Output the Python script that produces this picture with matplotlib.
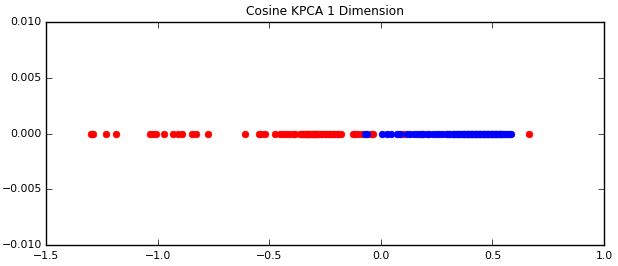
import matplotlib
matplotlib.use("Agg")
import matplotlib.pyplot as plt
import numpy as np

# --------------------------------------------------
# 1. Data: 1-D cosine KPCA projection, two classes
# --------------------------------------------------
red_x = [
    -1.300, -1.295, -1.290, -1.230, -1.185,
    -1.035, -1.020, -1.005, -0.970, -0.930, -0.910, -0.890,
    -0.845, -0.830, -0.776,
    -0.608, -0.546, -0.535, -0.520, -0.474,
    -0.452, -0.440, -0.425, -0.410, -0.395, -0.384,
    -0.362, -0.355, -0.348, -0.340, -0.335, -0.330, -0.325, -0.320,
    -0.315, -0.310, -0.305, -0.300, -0.295, -0.290, -0.285, -0.280,
    -0.270, -0.262, -0.250, -0.240, -0.232, -0.222, -0.215, -0.208,
    -0.198, -0.190, -0.180,
    -0.125, -0.115, -0.104, -0.085, -0.045, -0.035,
    0.100, 0.185, 0.665,
]

blue_x = [
    -0.072, -0.064, 0.004, 0.026, 0.045, 0.071, 0.085, 0.118,
    0.132, 0.148, 0.160, 0.175, 0.190, 0.205, 0.215, 0.232,
    0.245, 0.262, 0.275, 0.290, 0.302, 0.312, 0.322, 0.330,
    0.338, 0.345, 0.352, 0.360, 0.366, 0.372,
    0.378, 0.384, 0.390, 0.396, 0.402, 0.408, 0.414, 0.420,
    0.426, 0.432, 0.438, 0.444, 0.450, 0.456, 0.462, 0.468,
    0.474, 0.480, 0.486, 0.492, 0.498, 0.504, 0.510, 0.516,
    0.522, 0.528, 0.534, 0.540, 0.548, 0.556, 0.565, 0.575,
    0.585,
]

x_ticks = [-1.5, -1.0, -0.5, 0.0, 0.5, 1.0]
y_ticks = [-0.010, -0.005, 0.000, 0.005, 0.010]

# --------------------------------------------------
# 2. Plot
# --------------------------------------------------
plt.style.use("classic")
plt.rcParams["font.size"] = 7.8

fig = plt.figure(figsize=(6.18, 2.66), dpi=100, facecolor="white")
ax = fig.add_axes([0.0744, 0.079, 0.9030, 0.838])

ax.plot(red_x, np.zeros(len(red_x)), "o", color="red", mec="red",
        markersize=4.8)
ax.plot(blue_x, np.zeros(len(blue_x)), "o", color="blue", mec="blue",
        markersize=4.8)

ax.set_xlim(-1.5, 1.0)
ax.set_ylim(-0.010, 0.010)
ax.set_xticks(x_ticks)
ax.set_yticks(y_ticks)
ax.set_yticklabels([("%.3f" % v).replace("-", "\u2212") for v in y_ticks])
ax.set_xticklabels([("%.1f" % v).replace("-", "\u2212") for v in x_ticks])
ax.tick_params(axis="y", pad=3)
ax.set_title("Cosine KPCA 1 Dimension", fontsize=8.8)

fig.savefig("out.png", dpi=100, facecolor="white")
